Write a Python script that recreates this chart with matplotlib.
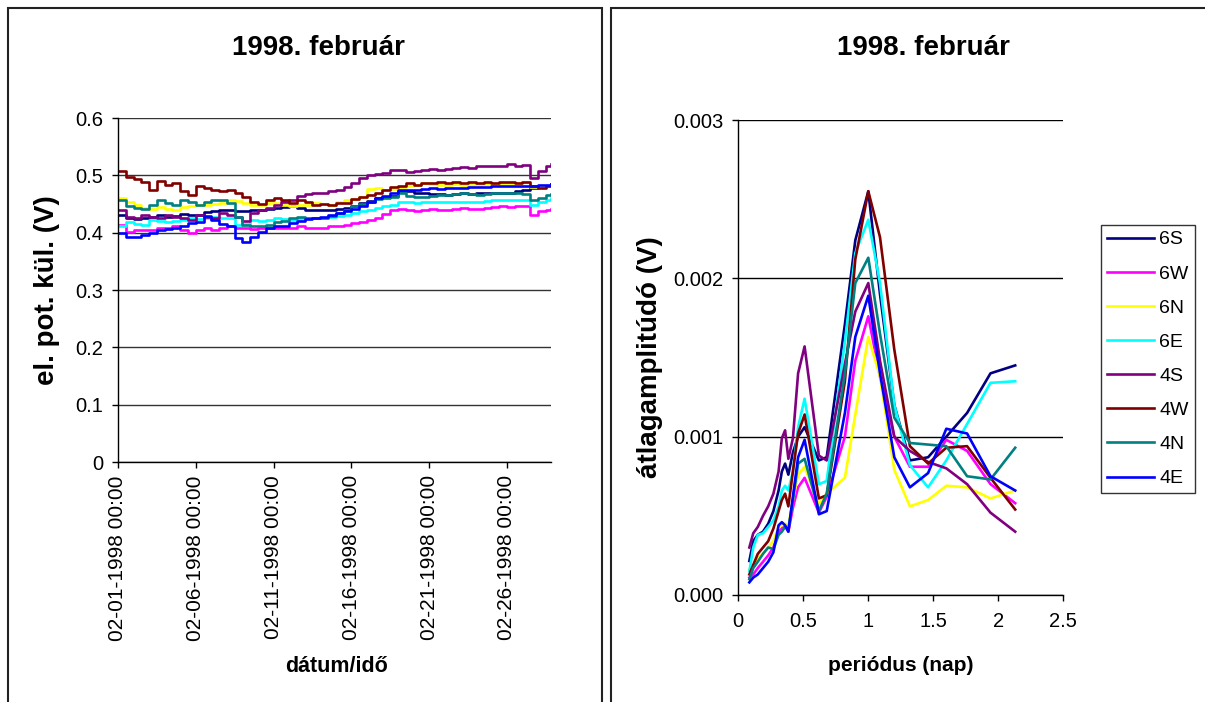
import matplotlib
matplotlib.use("Agg")
import matplotlib.pyplot as plt
import matplotlib.dates as mdates
from matplotlib.patches import Rectangle
from matplotlib.ticker import FuncFormatter, MultipleLocator
import pandas as pd

plt.rcParams['font.family'] = ['Liberation Sans', 'DejaVu Sans']

# ---------------------------------------------------------------- data
series_names = ['6S', '6W', '6N', '6E', '4S', '4W', '4N', '4E']
series_colors = ['#000080', '#FF00FF', '#FFFF00', '#00FFFF',
                 '#800080', '#800000', '#008080', '#0000FF']

# electric potential differences (V), sampled every 12 hours from 1998-02-01
pot_6S = [.431, .425, .423, .425, .428, .431, .428, .429, .433, .431,
          .431, .436, .437, .439, .440, .437, .437, .439, .440, .441,
          .443, .444, .446, .443, .440, .440, .439, .440, .442, .443,
          .447, .451, .456, .460, .462, .464, .472, .472, .469, .469,
          .468, .467, .466, .468, .469, .468, .469, .470, .469, .470,
          .470, .472, .475, .478, .480, .482, .485]
pot_6W = [.413, .402, .404, .405, .405, .408, .409, .411, .405, .399,
          .405, .408, .405, .408, .411, .409, .408, .406, .408, .408,
          .408, .409, .409, .411, .409, .408, .409, .411, .412, .413,
          .416, .419, .422, .425, .433, .439, .441, .439, .437, .440,
          .441, .440, .440, .441, .443, .442, .441, .443, .444, .446,
          .444, .446, .447, .431, .437, .440, .441]
pot_6N = [.460, .453, .449, .443, .441, .444, .441, .440, .444, .447,
          .449, .449, .450, .451, .457, .456, .451, .449, .449, .451,
          .451, .449, .446, .449, .449, .451, .450, .449, .453, .457,
          .459, .463, .476, .478, .475, .476, .480, .482, .484, .487,
          .485, .484, .484, .485, .484, .484, .484, .485, .485, .487,
          .487, .487, .488, .480, .481, .482, .482]
pot_6E = [.411, .419, .415, .413, .422, .421, .418, .421, .422, .425,
          .423, .425, .428, .426, .425, .413, .415, .422, .421, .422,
          .425, .423, .422, .423, .425, .425, .426, .428, .429, .431,
          .434, .437, .440, .443, .446, .449, .453, .454, .451, .453,
          .453, .454, .454, .454, .454, .454, .454, .456, .457, .457,
          .457, .457, .457, .449, .453, .457, .460]
pot_4S = [.440, .428, .425, .431, .428, .425, .431, .428, .425, .422,
          .431, .428, .425, .434, .431, .428, .421, .434, .439, .443,
          .449, .453, .457, .464, .468, .469, .470, .472, .475, .480,
          .487, .495, .501, .503, .504, .509, .509, .505, .507, .509,
          .511, .510, .511, .513, .515, .513, .516, .516, .517, .516,
          .519, .517, .518, .495, .507, .517, .520]
pot_4W = [.507, .497, .494, .488, .474, .490, .484, .487, .472, .466,
          .481, .478, .475, .472, .475, .469, .463, .454, .450, .457,
          .460, .457, .451, .457, .453, .449, .450, .449, .451, .452,
          .458, .463, .466, .470, .475, .479, .482, .487, .484, .487,
          .486, .488, .487, .488, .487, .488, .487, .488, .487, .489,
          .488, .487, .488, .482, .478, .481, .482]
pot_4N = [.457, .447, .443, .441, .449, .457, .451, .449, .457, .454,
          .449, .453, .457, .457, .451, .428, .413, .411, .412, .413,
          .418, .421, .425, .427, .425, .425, .425, .429, .434, .440,
          .446, .450, .454, .458, .460, .463, .469, .464, .463, .463,
          .464, .465, .466, .467, .469, .467, .466, .468, .469, .469,
          .469, .469, .468, .457, .460, .466, .468]
pot_4E = [.399, .392, .392, .396, .400, .405, .406, .409, .412, .416,
          .419, .429, .422, .415, .412, .390, .384, .393, .402, .408,
          .411, .412, .416, .421, .423, .425, .428, .430, .434, .437,
          .441, .447, .454, .460, .464, .469, .475, .474, .475, .476,
          .478, .477, .478, .478, .478, .479, .480, .480, .481, .481,
          .482, .481, .481, .482, .483, .484, .485]
potentials = [pot_6S, pot_6W, pot_6N, pot_6E, pot_4S, pot_4W, pot_4N, pot_4E]

times = pd.date_range('1998-02-01 00:00', periods=56, freq='12h').append(
    pd.DatetimeIndex(['1998-02-28 20:00']))

# mean amplitude (mV) against period (days)
period_days = [0.085, 0.115, 0.15, 0.19, 0.23, 0.27, 0.31, 0.335, 0.36, 0.385,
               0.42, 0.46, 0.51, 0.62, 0.68, 0.82, 0.90, 1.0, 1.09, 1.2,
               1.32, 1.46, 1.6, 1.76, 1.94, 2.13]
amp_6S = [0.215, 0.34, 0.38, 0.40, 0.45, 0.53, 0.66, 0.78, 0.83, 0.76,
          0.90, 1.00, 1.06, 0.85, 0.87, 1.71, 2.24, 2.55, 1.90, 1.20,
          0.85, 0.87, 1.00, 1.15, 1.40, 1.45]
amp_6W = [0.11, 0.13, 0.17, 0.21, 0.25, 0.30, 0.40, 0.42, 0.44, 0.40,
          0.55, 0.68, 0.74, 0.52, 0.62, 1.00, 1.48, 1.76, 1.38, 1.00,
          0.81, 0.81, 0.98, 0.91, 0.70, 0.58]
amp_6N = [0.16, 0.19, 0.23, 0.26, 0.30, 0.34, 0.43, 0.44, 0.45, 0.44,
          0.60, 0.76, 0.81, 0.57, 0.64, 0.74, 1.14, 1.63, 1.38, 0.79,
          0.56, 0.60, 0.69, 0.68, 0.61, 0.66]
amp_6E = [0.15, 0.30, 0.38, 0.39, 0.43, 0.47, 0.56, 0.66, 0.69, 0.66,
          0.78, 1.06, 1.24, 0.70, 0.72, 1.60, 2.16, 2.37, 1.97, 1.20,
          0.82, 0.68, 0.85, 1.08, 1.34, 1.35]
amp_4S = [0.30, 0.39, 0.43, 0.50, 0.56, 0.64, 0.78, 0.99, 1.04, 0.86,
          0.99, 1.40, 1.57, 0.88, 0.85, 1.46, 1.79, 1.97, 1.48, 1.00,
          0.91, 0.84, 0.80, 0.70, 0.52, 0.40]
amp_4W = [0.13, 0.19, 0.26, 0.30, 0.34, 0.42, 0.53, 0.60, 0.64, 0.56,
          0.78, 1.02, 1.14, 0.61, 0.63, 1.35, 2.12, 2.55, 2.26, 1.55,
          0.94, 0.83, 0.93, 0.94, 0.74, 0.54]
amp_4N = [0.10, 0.17, 0.21, 0.26, 0.30, 0.29, 0.38, 0.40, 0.43, 0.41,
          0.60, 0.83, 0.86, 0.53, 0.64, 1.40, 1.97, 2.13, 1.65, 1.12,
          0.96, 0.95, 0.94, 0.75, 0.73, 0.93]
amp_4E = [0.08, 0.11, 0.13, 0.17, 0.21, 0.27, 0.44, 0.46, 0.44, 0.40,
          0.62, 0.87, 0.98, 0.51, 0.53, 1.15, 1.63, 1.89, 1.40, 0.87,
          0.68, 0.77, 1.05, 1.02, 0.75, 0.66]
amplitudes_mV = [amp_6S, amp_6W, amp_6N, amp_6E, amp_4S, amp_4W, amp_4N, amp_4E]

title_text = '1998. február'

# ---------------------------------------------------------------- layout
W, H = 1205, 702
fig = plt.figure(figsize=(W / 100, H / 100), dpi=100)
fig.patch.set_facecolor('white')


def box(x0, y0, x1, y1):
    """Figure-fraction rectangle from pixel edges (y measured from the top)."""
    return [x0 / W, 1 - y1 / H, (x1 - x0) / W, (y1 - y0) / H]


def px(x, y):
    return x / W, 1 - y / H


# chart frames
for x0, x1 in [(8, 602), (611, 1240)]:
    fig.patches.append(Rectangle((x0 / W, -0.05), (x1 - x0) / W, 1 - 8 / H + 0.05,
                                 transform=fig.transFigure, fill=False,
                                 ec='#222222', lw=1.5, zorder=0))

tick_fs = 14.5
line_w = 1.9

# ---------------------------------------------------------------- left chart
ax1 = fig.add_axes(box(118, 118, 551, 462))
for vals, col in zip(potentials, series_colors):
    ax1.plot(times, vals, color=col, lw=line_w, drawstyle='steps-post')
ax1.set_ylim(0, 0.6)
ax1.set_xlim(pd.Timestamp('1998-02-01 00:00'), pd.Timestamp('1998-02-28 20:00'))
ax1.yaxis.set_major_locator(MultipleLocator(0.1))
ax1.yaxis.set_major_formatter(FuncFormatter(lambda v, p: f'{v:g}'))
ax1.xaxis.set_major_locator(mdates.DayLocator(bymonthday=[1, 6, 11, 16, 21, 26]))
ax1.xaxis.set_major_formatter(mdates.DateFormatter('%m-%d-%Y %H:%M'))
ax1.yaxis.grid(True, color='#333333', lw=1.0)
ax1.set_axisbelow(True)
for lbl in ax1.get_xticklabels():
    lbl.set_rotation(90)
ax1.tick_params(axis='x', labelsize=15, length=4.5, width=1, pad=5)
ax1.tick_params(axis='y', labelsize=tick_fs, length=4.5, width=1, pad=6)

# ---------------------------------------------------------------- right chart
ax2 = fig.add_axes(box(738.3, 120, 1063.3, 595))
lines = []
for vals, col, name in zip(amplitudes_mV, series_colors, series_names):
    ln, = ax2.plot(period_days, [v / 1000 for v in vals], color=col, lw=line_w,
                   label=name)
    lines.append(ln)
ax2.set_xlim(0, 2.5)
ax2.set_ylim(0, 0.003)
ax2.xaxis.set_major_locator(MultipleLocator(0.5))
ax2.xaxis.set_major_formatter(FuncFormatter(lambda v, p: f'{v:g}'))
ax2.yaxis.set_major_locator(MultipleLocator(0.001))
ax2.yaxis.set_major_formatter(FuncFormatter(lambda v, p: f'{v:.3f}'))
ax2.yaxis.grid(True, color='black', lw=1.0)
ax2.set_axisbelow(True)
ax2.tick_params(axis='x', labelsize=tick_fs, length=4.5, width=1, pad=8)
ax2.tick_params(axis='y', labelsize=tick_fs, length=4.5, width=1, pad=6)

for ax in (ax1, ax2):
    for side in ('top', 'right'):
        ax.spines[side].set_visible(False)
    for side in ('left', 'bottom'):
        ax.spines[side].set_color('black')
        ax.spines[side].set_linewidth(1.0)

leg = fig.legend(handles=lines, labels=series_names, loc='upper left',
                 bbox_to_anchor=px(1101, 225), frameon=True, fancybox=False,
                 edgecolor='black', fontsize=14, handlelength=2.4,
                 handletextpad=0.3, labelspacing=0.85, borderpad=0.3,
                 borderaxespad=0)
leg.get_frame().set_linewidth(1.0)

# ---------------------------------------------------------------- titles and axis labels
fig.text(*px(318, 55), title_text, ha='center', va='baseline',
         fontsize=20, fontweight='bold')
fig.text(*px(923, 55), title_text, ha='center', va='baseline',
         fontsize=20, fontweight='bold')
fig.text(*px(47, 290), 'el. pot. kül. (V)', ha='center', va='center',
         rotation=90, fontsize=20, fontweight='bold')
fig.text(*px(336, 672), 'dátum/idő', ha='center', va='baseline',
         fontsize=15.5, fontweight='bold')
fig.text(*px(650, 357), 'átlagamplitúdó (V)', ha='center', va='center',
         rotation=90, fontsize=20, fontweight='bold')
fig.text(*px(901, 671), 'periódus (nap)', ha='center', va='baseline',
         fontsize=15, fontweight='bold')

fig.savefig('out.png', dpi=100)
